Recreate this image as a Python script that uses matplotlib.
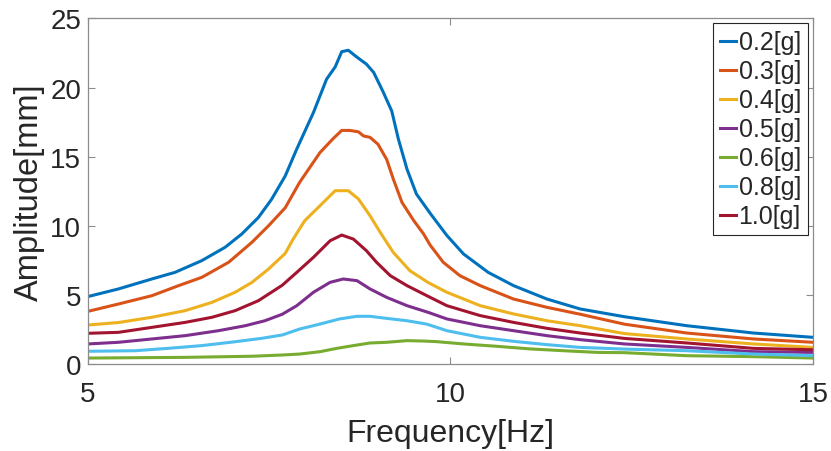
import numpy as np
import matplotlib
matplotlib.use("Agg")
import matplotlib.pyplot as plt

plt.rcParams['font.family'] = ['Liberation Sans', 'DejaVu Sans']

# amplitude response curves, one per excitation level
f_02 = [5.0, 5.42, 5.88, 6.2, 6.57, 6.89, 7.12, 7.35, 7.53, 7.72, 7.88, 8.11, 8.29, 8.41, 8.5, 8.59,
        8.71, 8.84, 8.94, 9.07, 9.19, 9.28, 9.4, 9.53, 9.72, 9.95, 10.18, 10.52, 10.87, 11.33,
        11.79, 12.4, 13.26, 14.18, 15.0]
a_02 = [4.88, 5.43, 6.15, 6.63, 7.48, 8.44, 9.4, 10.6, 11.9, 13.6, 15.56, 18.2, 20.6, 21.5, 22.6, 22.7,
        22.2, 21.7, 21.1, 19.7, 18.3, 16.3, 14.1, 12.3, 10.9, 9.3, 7.96, 6.63, 5.67, 4.7,
        3.98, 3.42, 2.77, 2.24, 1.93]

f_03 = [5.0, 5.42, 5.88, 6.25, 6.57, 6.94, 7.26, 7.49, 7.72, 7.92, 8.2, 8.38, 8.5, 8.61, 8.73, 8.8,
        8.89, 9.0, 9.12, 9.21, 9.33, 9.49, 9.63, 9.72, 9.9, 10.13, 10.41, 10.87, 11.33, 11.79,
        12.4, 13.26, 14.18, 15.0]
a_03 = [3.81, 4.34, 4.94, 5.67, 6.27, 7.36, 8.8, 10.0, 11.3, 13.15, 15.3, 16.3, 16.9, 16.9, 16.8, 16.5,
        16.4, 15.9, 14.8, 13.4, 11.7, 10.4, 9.4, 8.6, 7.36, 6.39, 5.67, 4.7, 4.1, 3.6,
        2.88, 2.24, 1.81, 1.57]

f_04 = [5.0, 5.42, 5.88, 6.34, 6.71, 7.03, 7.26, 7.49, 7.72, 7.83, 7.99, 8.2, 8.41, 8.59, 8.73, 8.89,
        9.03, 9.21, 9.44, 9.69, 9.95, 10.41, 10.87, 11.33, 11.79, 12.4, 13.26, 14.18, 15.0]
a_04 = [2.82, 3.0, 3.38, 3.86, 4.46, 5.19, 5.9, 6.87, 8.0, 9.04, 10.37, 11.45, 12.54, 12.54, 11.94, 10.73,
        9.53, 8.08, 6.75, 5.9, 5.19, 4.22, 3.62, 3.13, 2.77, 2.2, 1.81, 1.45, 1.2]

f_05 = [5.0, 5.42, 5.88, 6.34, 6.8, 7.17, 7.44, 7.68, 7.88, 8.11, 8.34, 8.52, 8.71, 8.89, 9.12, 9.4,
        9.69, 9.95, 10.41, 10.87, 11.33, 11.79, 12.4, 13.26, 14.18, 15.0]
a_05 = [1.45, 1.57, 1.81, 2.05, 2.41, 2.77, 3.13, 3.6, 4.22, 5.19, 5.91, 6.15, 6.03, 5.43, 4.82, 4.22,
        3.74, 3.26, 2.77, 2.41, 2.05, 1.76, 1.45, 1.2, 0.89, 0.84]

f_06 = [5.0, 6.34, 7.26, 7.68, 7.92, 8.2, 8.43, 8.66, 8.89, 9.12, 9.4, 9.63, 9.8, 10.18, 10.64, 11.1,
        11.56, 12.02, 12.4, 13.26, 14.18, 15.0]
a_06 = [0.43, 0.48, 0.56, 0.65, 0.72, 0.89, 1.13, 1.33, 1.52, 1.57, 1.69, 1.66, 1.62, 1.45, 1.28, 1.09,
        0.96, 0.84, 0.82, 0.6, 0.53, 0.43]

f_08 = [5.0, 5.65, 6.1, 6.57, 7.03, 7.4, 7.68, 7.92, 8.2, 8.47, 8.71, 8.89, 9.12, 9.4, 9.67, 9.95,
        10.41, 10.87, 11.33, 11.79, 12.4, 13.26, 14.18, 15.0]
a_08 = [0.92, 0.96, 1.13, 1.33, 1.61, 1.86, 2.1, 2.53, 2.89, 3.26, 3.45, 3.45, 3.3, 3.13, 2.89, 2.41,
        1.93, 1.64, 1.4, 1.2, 1.08, 0.96, 0.72, 0.6]

f_10 = [5.0, 5.42, 5.88, 6.34, 6.71, 7.03, 7.35, 7.53, 7.68, 7.88, 8.11, 8.34, 8.5, 8.66, 8.84, 8.98,
        9.17, 9.4, 9.69, 9.95, 10.41, 10.87, 11.33, 11.79, 12.4, 13.26, 14.18, 15.0]
a_10 = [2.22, 2.29, 2.65, 3.01, 3.38, 3.86, 4.58, 5.19, 5.7, 6.63, 7.72, 8.92, 9.33, 9.04, 8.2, 7.36,
        6.39, 5.67, 4.9, 4.22, 3.5, 3.01, 2.58, 2.24, 1.85, 1.52, 1.13, 1.03]

labels = ['0.2[g]', '0.3[g]', '0.4[g]', '0.5[g]', '0.6[g]', '0.8[g]', '1.0[g]']
curves = [(f_02, a_02), (f_03, a_03), (f_04, a_04), (f_05, a_05), (f_06, a_06), (f_08, a_08), (f_10, a_10)]
colors = ['#0072BD', '#D95319', '#EDB120', '#7E2F8E', '#77AC30', '#4DBEEE', '#A2142F']

fig = plt.figure(figsize=(8.31, 4.52), dpi=100)
ax = fig.add_axes([0.1059, 0.1925, 0.8724, 0.7644])

for (f, a), c, lab in zip(curves, colors, labels):
    ax.plot(f, a, color=c, lw=2.2, label=lab)

ax.set_xlim(5, 15)
ax.set_ylim(0, 25)
ax.set_xticks([5, 10, 15])
ax.set_yticks([0, 5, 10, 15, 20, 25])

txt = '#262626'
ax.tick_params(direction='in', length=5, width=0.8, color='#8c8c8c', labelsize=20,
               labelcolor=txt, top=True, right=True)
ax.tick_params(axis='x', pad=12)
ax.tick_params(axis='y', pad=5)
for s in ax.spines.values():
    s.set_color('#8c8c8c')
    s.set_linewidth(0.9)

ax.set_xlabel('Frequency[Hz]', fontsize=23, color=txt, labelpad=8)
ax.set_ylabel('Amplitude[mm]', fontsize=23.5, color=txt, labelpad=4)

leg = ax.legend(loc='upper right', fontsize=18, handlelength=0.65, handletextpad=0.1,
                labelspacing=0.2, borderpad=0.28, borderaxespad=0.2, fancybox=False,
                framealpha=1, edgecolor='#262626')
leg.get_frame().set_linewidth(0.8)
for t in leg.get_texts():
    t.set_color(txt)

plt.savefig('out.png', dpi=100)
plt.close()
